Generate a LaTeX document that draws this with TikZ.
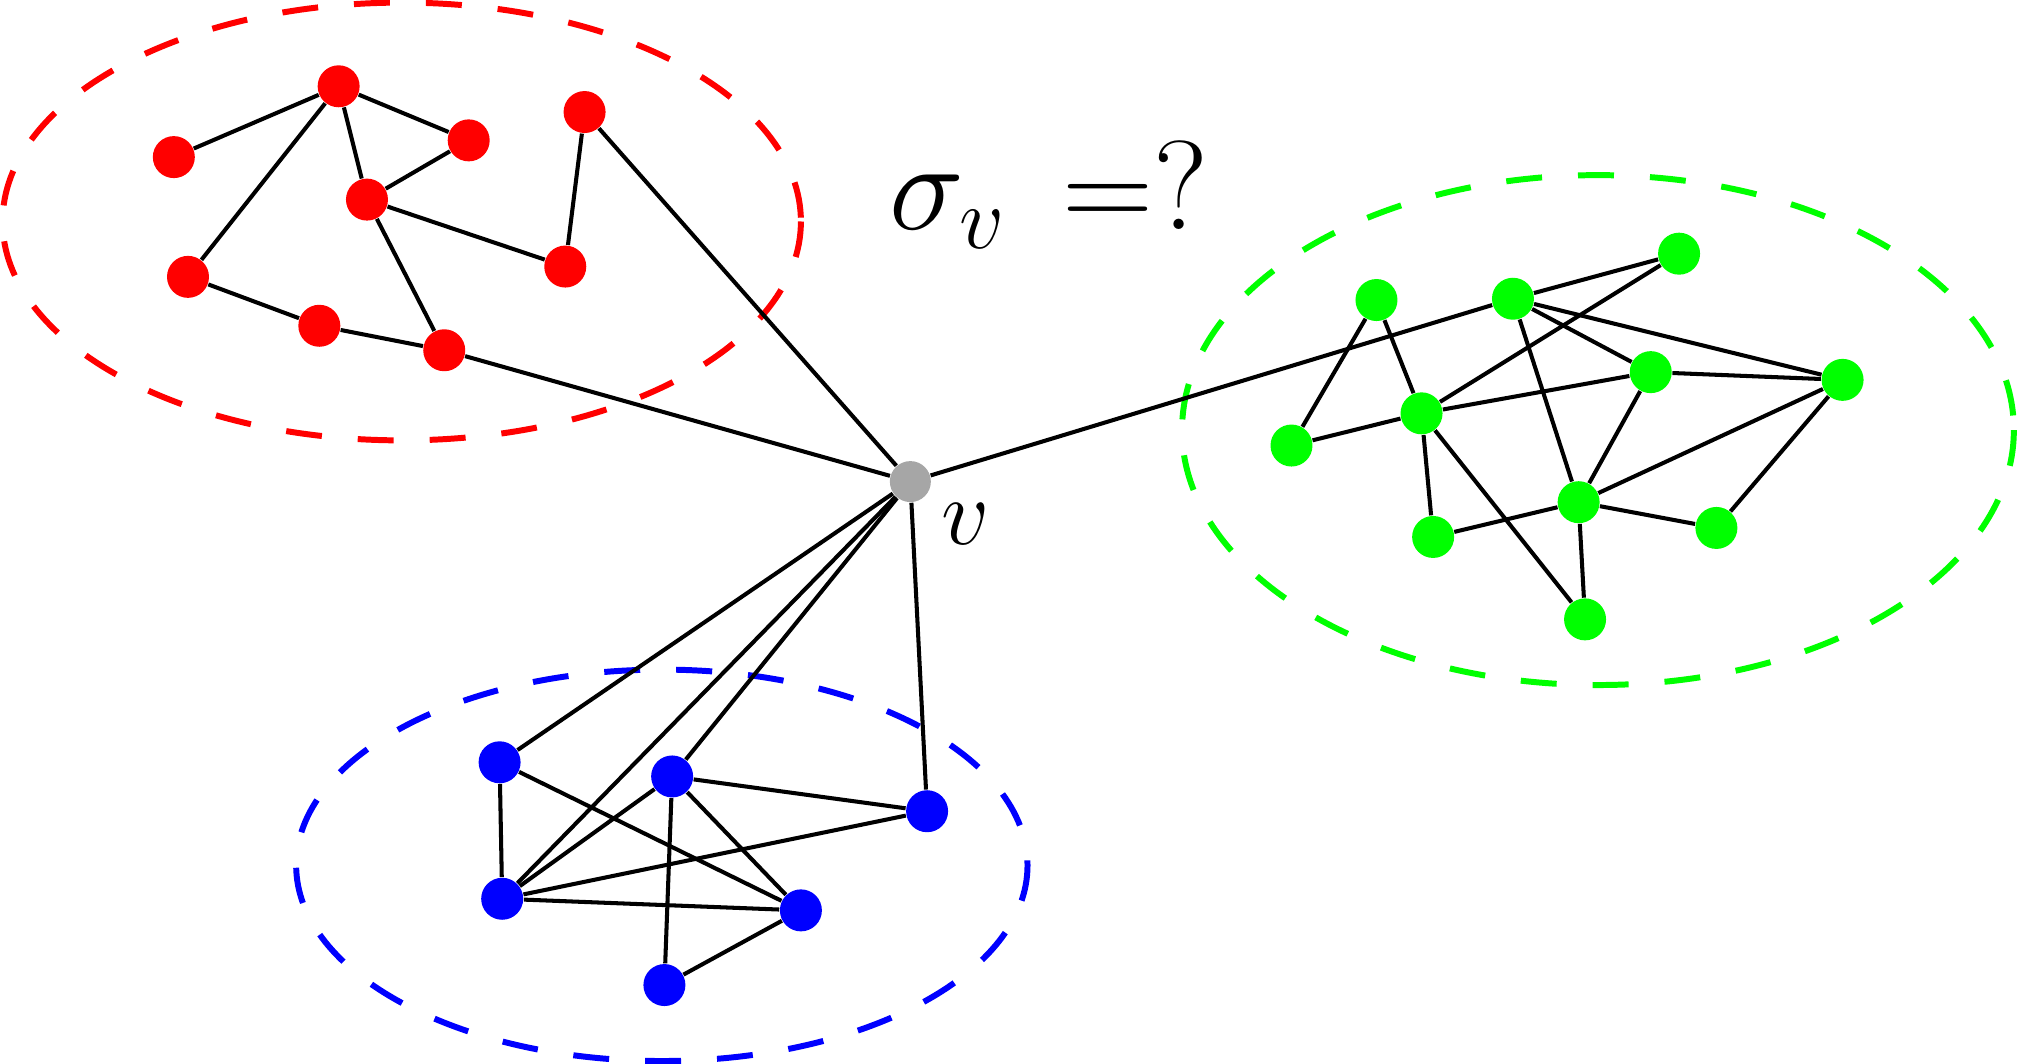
\RequirePackage{fix-cm}
\documentclass[tikz,border=0pt]{standalone}
\usepackage{tikz}
\definecolor{NetRed}{HTML}{FF0000}
\definecolor{NetGreen}{HTML}{00FF00}
\definecolor{NetBlue}{HTML}{0000FF}
\definecolor{NetGray}{HTML}{A6A6A6}

\begin{document}
\begin{tikzpicture}[
  x=0.012876cm,
  y=-0.012876cm,
  dot/.style={
    circle,
    draw=none,
    inner sep=0pt,
    minimum size=0.42cm
  },
  red dot/.style={dot,fill=NetRed},
  green dot/.style={dot,fill=NetGreen},
  blue dot/.style={dot,fill=NetBlue},
  center dot/.style={dot,fill=NetGray,minimum size=0.41cm},
  edge/.style={
    draw=black,
    line width=1.15pt
  },
  community/.style={
    line width=1.7pt,
    dash pattern=on 0.36cm off 0.36cm
  }
]

\useasboundingbox (0,0) rectangle (1568,826);

% communities
\draw[community,NetRed] (312,172) ellipse [x radius=310, y radius=170];
\draw[community,NetGreen] (1241,334) ellipse [x radius=323, y radius=198];
\draw[community,NetBlue] (514,672) ellipse [x radius=284, y radius=152];

% vertices
\node[center dot] (v) at (707,374) {};

\node[red dot] (r1) at (263,67) {};
\node[red dot] (r2) at (135,122) {};
\node[red dot] (r3) at (364,109) {};
\node[red dot] (r4) at (285,155) {};
\node[red dot] (r5) at (454,87) {};
\node[red dot] (r6) at (146,215) {};
\node[red dot] (r7) at (439,207) {};
\node[red dot] (r8) at (248,253) {};
\node[red dot] (r9) at (345,272) {};

\node[green dot] (g1) at (1069,233) {};
\node[green dot] (g2) at (1175,232) {};
\node[green dot] (g3) at (1304,197) {};
\node[green dot] (g4) at (1282,289) {};
\node[green dot] (g5) at (1431,295) {};
\node[green dot] (g6) at (1003,346) {};
\node[green dot] (g7) at (1104,321) {};
\node[green dot] (g8) at (1226,390) {};
\node[green dot] (g9) at (1113,417) {};
\node[green dot] (g10) at (1333,410) {};
\node[green dot] (g11) at (1231,481) {};

\node[blue dot] (b1) at (388,592) {};
\node[blue dot] (b2) at (522,603) {};
\node[blue dot] (b3) at (720,630) {};
\node[blue dot] (b4) at (390,698) {};
\node[blue dot] (b5) at (622,707) {};
\node[blue dot] (b6) at (516,765) {};

% edges
\foreach \a/\b in {r1/r2,r1/r3,r1/r4,r1/r6,r3/r4,r4/r7,r4/r9,r5/r7,r6/r8,r8/r9,v/r5,v/r9} {
  \draw[edge] (\a) -- (\b);
}
\foreach \a/\b in {v/g2,g2/g3,g3/g7,g1/g6,g1/g7,g2/g4,g2/g5,g2/g8,g4/g5,g4/g7,g4/g8,
                   g5/g8,g5/g10,g6/g7,g7/g9,g7/g11,g8/g9,g8/g10,g8/g11} {
  \draw[edge] (\a) -- (\b);
}
\foreach \a/\b in {v/b1,v/b2,v/b3,v/b4,b1/b4,b1/b5,b2/b3,b2/b4,b2/b5,b2/b6,b3/b4,b4/b5,b5/b6} {
  \draw[edge] (\a) -- (\b);
}

% labels
\node[inner sep=0pt,anchor=base west,font=\fontsize{27}{30}\selectfont] (vlabel) at (731,423) {$v$};
\node[inner sep=0pt,anchor=base west,font=\fontsize{36}{40}\selectfont] (question) at (690,178) {$\sigma_v\, =?$};

\end{tikzpicture}
\end{document}
